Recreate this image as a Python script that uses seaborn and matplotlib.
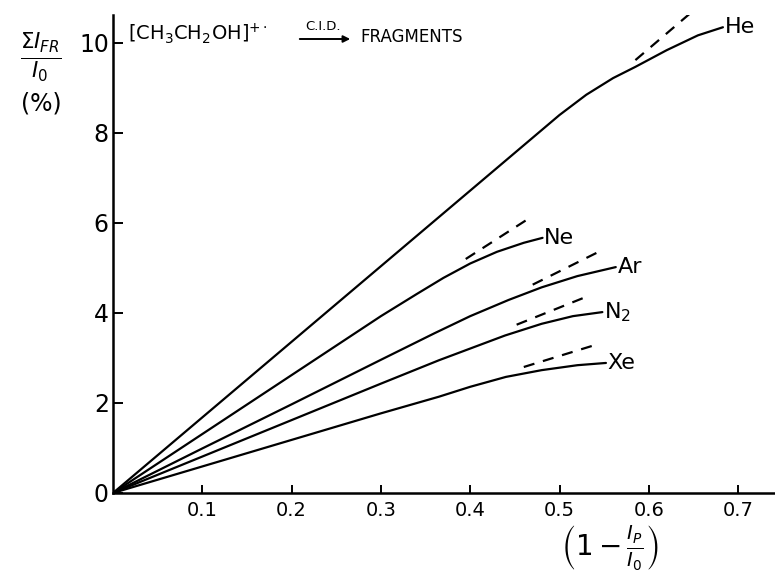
import matplotlib
matplotlib.use("Agg")
import matplotlib.pyplot as plt
import seaborn as sns
import pandas as pd

# ---- data ----
he_x = [0, 0.1, 0.2, 0.3, 0.4, 0.5, 0.53, 0.56, 0.585, 0.62, 0.655, 0.683]
he_y = [0, 1.68, 3.36, 5.04, 6.72, 8.40, 8.85, 9.22, 9.47, 9.84, 10.17, 10.35]
ne_x = [0, 0.1, 0.2, 0.3, 0.34, 0.37, 0.40, 0.43, 0.46, 0.481]
ne_y = [0, 1.31, 2.62, 3.93, 4.42, 4.78, 5.10, 5.36, 5.56, 5.67]
ar_x = [0, 0.1, 0.2, 0.3, 0.36, 0.40, 0.443, 0.48, 0.52, 0.563]
ar_y = [0, 0.99, 1.97, 2.96, 3.55, 3.93, 4.29, 4.57, 4.82, 5.02]
n2_x = [0, 0.1, 0.2, 0.3, 0.365, 0.40, 0.439, 0.48, 0.515, 0.548]
n2_y = [0, 0.81, 1.62, 2.43, 2.95, 3.21, 3.50, 3.76, 3.93, 4.02]
xe_x = [0, 0.1, 0.2, 0.3, 0.365, 0.40, 0.44, 0.48, 0.52, 0.552]
xe_y = [0, 0.59, 1.18, 1.77, 2.14, 2.36, 2.58, 2.73, 2.84, 2.89]

gases = ["He", "Ne", "Ar", "N2", "Xe"]
gas_labels = ["He", "Ne", "Ar", r"N$_2$", "Xe"]

# dashed (initial-slope) extensions: start/end points
dash_x0 = [0.585, 0.395, 0.470, 0.452, 0.460]
dash_y0 = [9.62, 5.20, 4.63, 3.74, 2.80]
dash_x1 = [0.647, 0.468, 0.548, 0.530, 0.540]
dash_y1 = [10.67, 6.13, 5.40, 4.36, 3.29]

x_ticks = [0.1, 0.2, 0.3, 0.4, 0.5, 0.6, 0.7]
x_tick_labels = ["0.1", "0.2", "0.3", "0.4", "0.5", "0.6", "0.7"]
y_ticks = [0, 2, 4, 6, 8, 10]
y_tick_labels = ["0", "2", "4", "6", "8", "10"]

# ---- build tables ----
curves = pd.concat([
    pd.DataFrame({"gas": g, "x": xs, "y": ys})
    for g, xs, ys in zip(gases, [he_x, ne_x, ar_x, n2_x, xe_x],
                         [he_y, ne_y, ar_y, n2_y, xe_y])
], ignore_index=True)
dashes_df = pd.concat([
    pd.DataFrame({"gas": g, "x": [a, b], "y": [c, d]})
    for g, a, c, b, d in zip(gases, dash_x0, dash_y0, dash_x1, dash_y1)
], ignore_index=True)

sns.set_style("ticks")
plt.rcParams["font.family"] = ["DejaVu Sans"]
plt.rcParams["mathtext.fontset"] = "dejavusans"
plt.rcParams["text.color"] = "black"
plt.rcParams["xtick.color"] = "black"
plt.rcParams["ytick.color"] = "black"

W, H = 775, 579
fig = plt.figure(figsize=(W / 100, H / 100), dpi=100)
ax = fig.add_axes([113 / W, (H - 493) / H, (W - 113) / W, (493 - 15) / H])

sns.lineplot(data=curves, x="x", y="y", units="gas", estimator=None,
             sort=False, color="black", linewidth=1.6, ax=ax)
sns.lineplot(data=dashes_df, x="x", y="y", units="gas", estimator=None,
             sort=False, color="black", linewidth=1.6,
             linestyle=(0, (5, 4)), ax=ax)

ax.set_xlim(0, (W - 113) / 893)
ax.set_ylim(0, (493 - 15) / 45)

# gas labels at curve ends
ends = {"He": (he_x[-1], he_y[-1]), "Ne": (ne_x[-1], ne_y[-1]),
        "Ar": (ar_x[-1], ar_y[-1]), "N2": (n2_x[-1], n2_y[-1]),
        "Xe": (xe_x[-1], xe_y[-1])}
for g, lab in zip(gases, gas_labels):
    xe_, ye_ = ends[g]
    ax.text(xe_ + 0.002, ye_, lab, fontsize=16, ha="left", va="center",
            color="black", clip_on=False)

# axes styling
sns.despine(ax=ax)
for s in ["left", "bottom"]:
    ax.spines[s].set_linewidth(1.8)
    ax.spines[s].set_color("black")
ax.set_xticks(x_ticks)
ax.set_xticklabels(x_tick_labels, fontsize=14, color="black")
ax.set_yticks(y_ticks)
ax.set_yticklabels(y_tick_labels, fontsize=17, color="black")
ax.tick_params(axis="x", direction="in", length=6, width=1.4, pad=6,
               colors="black")
ax.tick_params(axis="y", direction="in", length=7, width=1.4, pad=3,
               colors="black")
ax.set_xlabel("")
ax.set_ylabel("")


def fx(px):
    return px / W


def fy(py):
    return 1 - py / H


# y-axis label
fig.text(fx(41), fy(58), r"$\frac{\Sigma I_{FR}}{I_0}$", fontsize=22,
         ha="center", va="center", color="black")
fig.text(fx(41), fy(104), "(%)", fontsize=17, ha="center", va="center",
         color="black")

# x-axis label
fig.text(fx(610), fy(548), r"$\left(1-\frac{I_P}{I_0}\right)$", fontsize=20,
         ha="center", va="center", color="black")

# reaction title
fig.text(fx(128), fy(34), r"[CH$_3$CH$_2$OH]$^{+\cdot}$", fontsize=14,
         ha="left", va="center", color="black")
fig.text(fx(323), fy(27), "C.I.D.", fontsize=9.5, ha="center", va="center",
         color="black")
ax.annotate("", xy=(fx(353), fy(39)), xytext=(fx(297), fy(39)),
            xycoords="figure fraction", textcoords="figure fraction",
            arrowprops=dict(arrowstyle="-|>", color="black", lw=1.4,
                            mutation_scale=10))
fig.text(fx(360), fy(37), "FRAGMENTS", fontsize=12, ha="left", va="center",
         color="black")

fig.savefig("out.png", dpi=100)
